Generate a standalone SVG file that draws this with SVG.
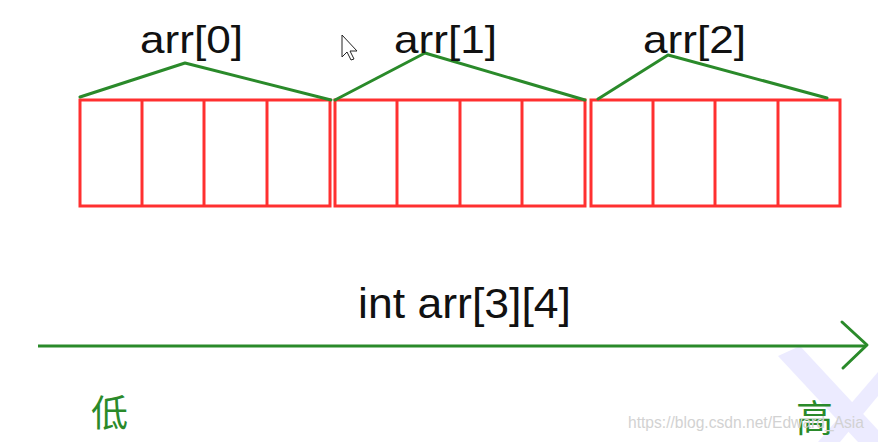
<svg xmlns="http://www.w3.org/2000/svg" width="878" height="442" viewBox="0 0 878 442">
<style>
.cell{fill:none;stroke:#ff3030;stroke-width:3}
.brace{fill:none;stroke:#2a8a2a;stroke-width:3;stroke-linejoin:round;stroke-linecap:round}
.lbl{font-family:"Liberation Sans",Arial,sans-serif;fill:#111111}
.cjk{font-family:"Noto Sans CJK SC","Noto Sans CJK TC",sans-serif;fill:#2a8a2a}
</style>
<rect width="878" height="442" fill="#ffffff"/>
<g id="watermark-logo" fill="#ecebff">
<polygon points="778,356 800,346 878,430 878,442 858,442"/>
<polygon points="878,372 878,396 840,442 818,442"/>
</g>
<g id="row0">
<rect class="cell" x="80" y="100" width="250" height="106"/>
<line class="cell" x1="142" y1="100" x2="142" y2="206"/>
<line class="cell" x1="204" y1="100" x2="204" y2="206"/>
<line class="cell" x1="267" y1="100" x2="267" y2="206"/>
</g>
<g id="row1">
<rect class="cell" x="335" y="100" width="250" height="106"/>
<line class="cell" x1="397" y1="100" x2="397" y2="206"/>
<line class="cell" x1="460" y1="100" x2="460" y2="206"/>
<line class="cell" x1="522" y1="100" x2="522" y2="206"/>
</g>
<g id="row2">
<rect class="cell" x="591" y="100" width="249" height="106"/>
<line class="cell" x1="653" y1="100" x2="653" y2="206"/>
<line class="cell" x1="715" y1="100" x2="715" y2="206"/>
<line class="cell" x1="778" y1="100" x2="778" y2="206"/>
</g>
<g id="connectors">
<polyline class="brace" points="80,97 185,63 331,100"/>
<polyline class="brace" points="335,100 425,53 585,100"/>
<polyline class="brace" points="598,99 668,55 827,98"/>
<line x1="38" y1="346" x2="866" y2="346" stroke="#2a8a2a" stroke-width="3"/>
<polyline points="842,322 867,345 843,368" fill="none" stroke="#2a8a2a" stroke-width="3" stroke-linecap="round" stroke-linejoin="round"/>
</g>
<g id="labels">
<text class="lbl" x="140" y="53" font-size="39" textLength="103" lengthAdjust="spacingAndGlyphs">arr[0]</text>
<text class="lbl" x="394" y="53" font-size="39" textLength="103" lengthAdjust="spacingAndGlyphs">arr[1]</text>
<text class="lbl" x="643" y="53" font-size="39" textLength="103" lengthAdjust="spacingAndGlyphs">arr[2]</text>
<text class="lbl" x="358" y="318" font-size="42" textLength="213" lengthAdjust="spacingAndGlyphs">int arr[3][4]</text>
<text class="cjk" x="91" y="427" font-size="37">低</text>
<text class="cjk" x="796" y="432" font-size="37">高</text>
<text x="628" y="428" font-family="'Liberation Sans',Arial,sans-serif" font-size="17" fill="#d2d2d2" textLength="236" lengthAdjust="spacingAndGlyphs">https://blog.csdn.net/Edward_Asia</text>
</g>
<g id="cursor">
<polygon points="342,35 342,57 347,52 351,60 354,59 350,51 357,51" fill="#ffffff" stroke="#222222" stroke-width="1" stroke-linejoin="round"/>
</g>
</svg>
